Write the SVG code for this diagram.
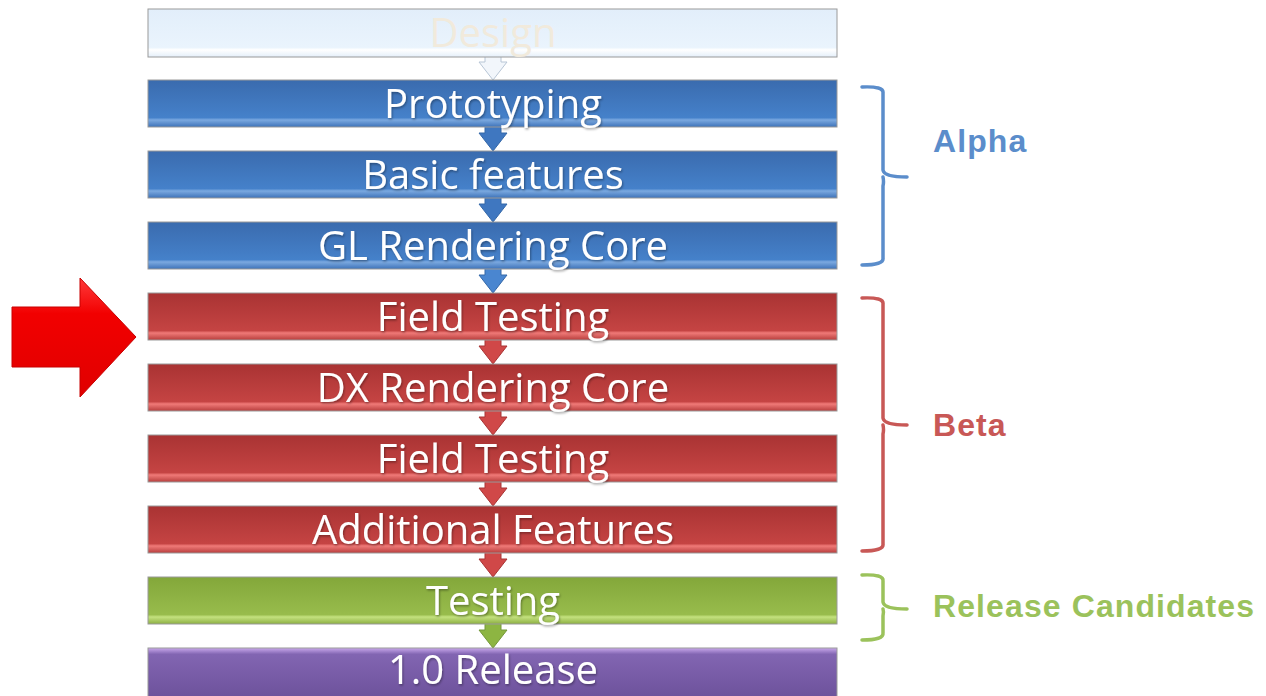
<svg xmlns="http://www.w3.org/2000/svg" width="1266" height="696" viewBox="0 0 1266 696">
<defs>
<linearGradient id="gBlue" x1="0" y1="0" x2="0" y2="1"><stop offset="0" stop-color="#3A6BAE"/><stop offset="0.8" stop-color="#4581CA"/><stop offset="0.85" stop-color="#7BA9E0"/><stop offset="1" stop-color="#3D72B8"/></linearGradient>
<linearGradient id="gRed" x1="0" y1="0" x2="0" y2="1"><stop offset="0" stop-color="#A93333"/><stop offset="0.8" stop-color="#C54443"/><stop offset="0.85" stop-color="#F07A78"/><stop offset="1" stop-color="#B73D3C"/></linearGradient>
<linearGradient id="gGreen" x1="0" y1="0" x2="0" y2="1"><stop offset="0" stop-color="#83A73A"/><stop offset="0.8" stop-color="#98BC4C"/><stop offset="0.85" stop-color="#C4E27F"/><stop offset="1" stop-color="#8CAF42"/></linearGradient>
<linearGradient id="gPurple" x1="0" y1="0" x2="0" y2="1"><stop offset="0" stop-color="#C9A8EC"/><stop offset="0.12" stop-color="#8265B2"/><stop offset="1" stop-color="#6C519A"/></linearGradient>
<linearGradient id="gDesign" x1="0" y1="0" x2="0" y2="1"><stop offset="0" stop-color="#E2EEFA"/><stop offset="0.8" stop-color="#EAF4FD"/><stop offset="0.85" stop-color="#FFFFFF"/><stop offset="1" stop-color="#E4EFFA"/></linearGradient>
<linearGradient id="gArrow" x1="0" y1="0" x2="0" y2="1"><stop offset="0" stop-color="#FF3B3B"/><stop offset="0.3" stop-color="#F20000"/><stop offset="1" stop-color="#E00000"/></linearGradient>
<filter id="sh" x="-5%" y="-20%" width="110%" height="140%"><feDropShadow dx="1" dy="1.5" stdDeviation="1" flood-color="#000" flood-opacity="0.35"/></filter>
<path id="dn" d="M-8,0 H8 V12 H14 L0,30 L-14,12 H-8 Z"/>
</defs>
<style>
.box{stroke:#9a9a9a;stroke-width:1}
.lbl{font-family:"Open Sans","Noto Sans",sans-serif;font-size:40px;fill:#fff;text-anchor:middle;filter:url(#sh)}
.grp{font-family:"Liberation Sans",Arial,sans-serif;font-size:32px;font-weight:bold;letter-spacing:1.1px}
.br{fill:none;stroke-width:3.5;stroke-linecap:round;stroke-linejoin:round}
</style>
<rect width="1266" height="696" fill="#fff"/>
<g id="connectors">
<use href="#dn" x="493" y="50" fill="#F2F6FB" stroke="#B8C6D6"/>
<use href="#dn" x="493" y="121" fill="#3F77C0" stroke="#3468A8"/>
<use href="#dn" x="493" y="192" fill="#3F77C0" stroke="#3468A8"/>
<use href="#dn" x="493" y="263" fill="#4A86D0" stroke="#3468A8"/>
<use href="#dn" x="493" y="334" fill="#D04848" stroke="#A83434"/>
<use href="#dn" x="493" y="405" fill="#D04848" stroke="#A83434"/>
<use href="#dn" x="493" y="476" fill="#D04848" stroke="#A83434"/>
<use href="#dn" x="493" y="547" fill="#D04848" stroke="#A83434"/>
<use href="#dn" x="493" y="618" fill="#8DB542" stroke="#74983A"/>
</g>
<g id="n-design"><rect class="box" x="148" y="9" width="689" height="48" fill="url(#gDesign)" stroke="#b0b0b0"/><text class="lbl" x="493" y="47" style="fill:#F1EADC;filter:none">Design</text></g>
<g id="n-proto"><rect class="box" x="148" y="80" width="689" height="47" fill="url(#gBlue)"/><text class="lbl" x="493" y="118">Prototyping</text></g>
<g id="n-basic"><rect class="box" x="148" y="151" width="689" height="47" fill="url(#gBlue)"/><text class="lbl" x="493" y="189">Basic features</text></g>
<g id="n-gl"><rect class="box" x="148" y="222" width="689" height="47" fill="url(#gBlue)"/><text class="lbl" x="493" y="260">GL Rendering Core</text></g>
<g id="n-field1"><rect class="box" x="148" y="293" width="689" height="47" fill="url(#gRed)"/><text class="lbl" x="493" y="331">Field Testing</text></g>
<g id="n-dx"><rect class="box" x="148" y="364" width="689" height="47" fill="url(#gRed)"/><text class="lbl" x="493" y="402">DX Rendering Core</text></g>
<g id="n-field2"><rect class="box" x="148" y="435" width="689" height="47" fill="url(#gRed)"/><text class="lbl" x="493" y="473">Field Testing</text></g>
<g id="n-additional"><rect class="box" x="148" y="506" width="689" height="47" fill="url(#gRed)"/><text class="lbl" x="493" y="544">Additional Features</text></g>
<g id="n-testing"><rect class="box" x="148" y="577" width="689" height="47" fill="url(#gGreen)"/><text class="lbl" x="493" y="615">Testing</text></g>
<g id="n-release"><rect class="box" x="148" y="648" width="689" height="52" fill="url(#gPurple)"/><text class="lbl" x="493" y="684">1.0 Release</text></g>
<g id="alpha"><path class="br" stroke="#5B8DCB" d="M862,87 Q884,86 883,93 V170 Q884,177 907,177 M883,177 Q884,182 883,186 V258 Q884,265 862,265"/><text class="grp" x="933" y="152" fill="#5B8DCB">Alpha</text></g>
<g id="beta"><path class="br" stroke="#C85856" d="M862,298 Q884,297 883,304 V418 Q884,425 907,425 M883,425 Q884,430 883,434 V544 Q884,551 862,551"/><text class="grp" x="933" y="436" fill="#C85856">Beta</text></g>
<g id="rc"><path class="br" stroke="#9BC25B" d="M862,575 Q884,574 883,581 V602 Q884,609 907,609 M883,609 Q884,612 883,616 V633 Q884,640 862,640"/><text class="grp" x="933" y="617" fill="#9BC25B">Release Candidates</text></g>
<g id="pointer"><path d="M12,307 H80 V278 L136,337 L80,397 V367 H12 Z" fill="url(#gArrow)" stroke="#C80000" stroke-width="1"/></g>
</svg>
